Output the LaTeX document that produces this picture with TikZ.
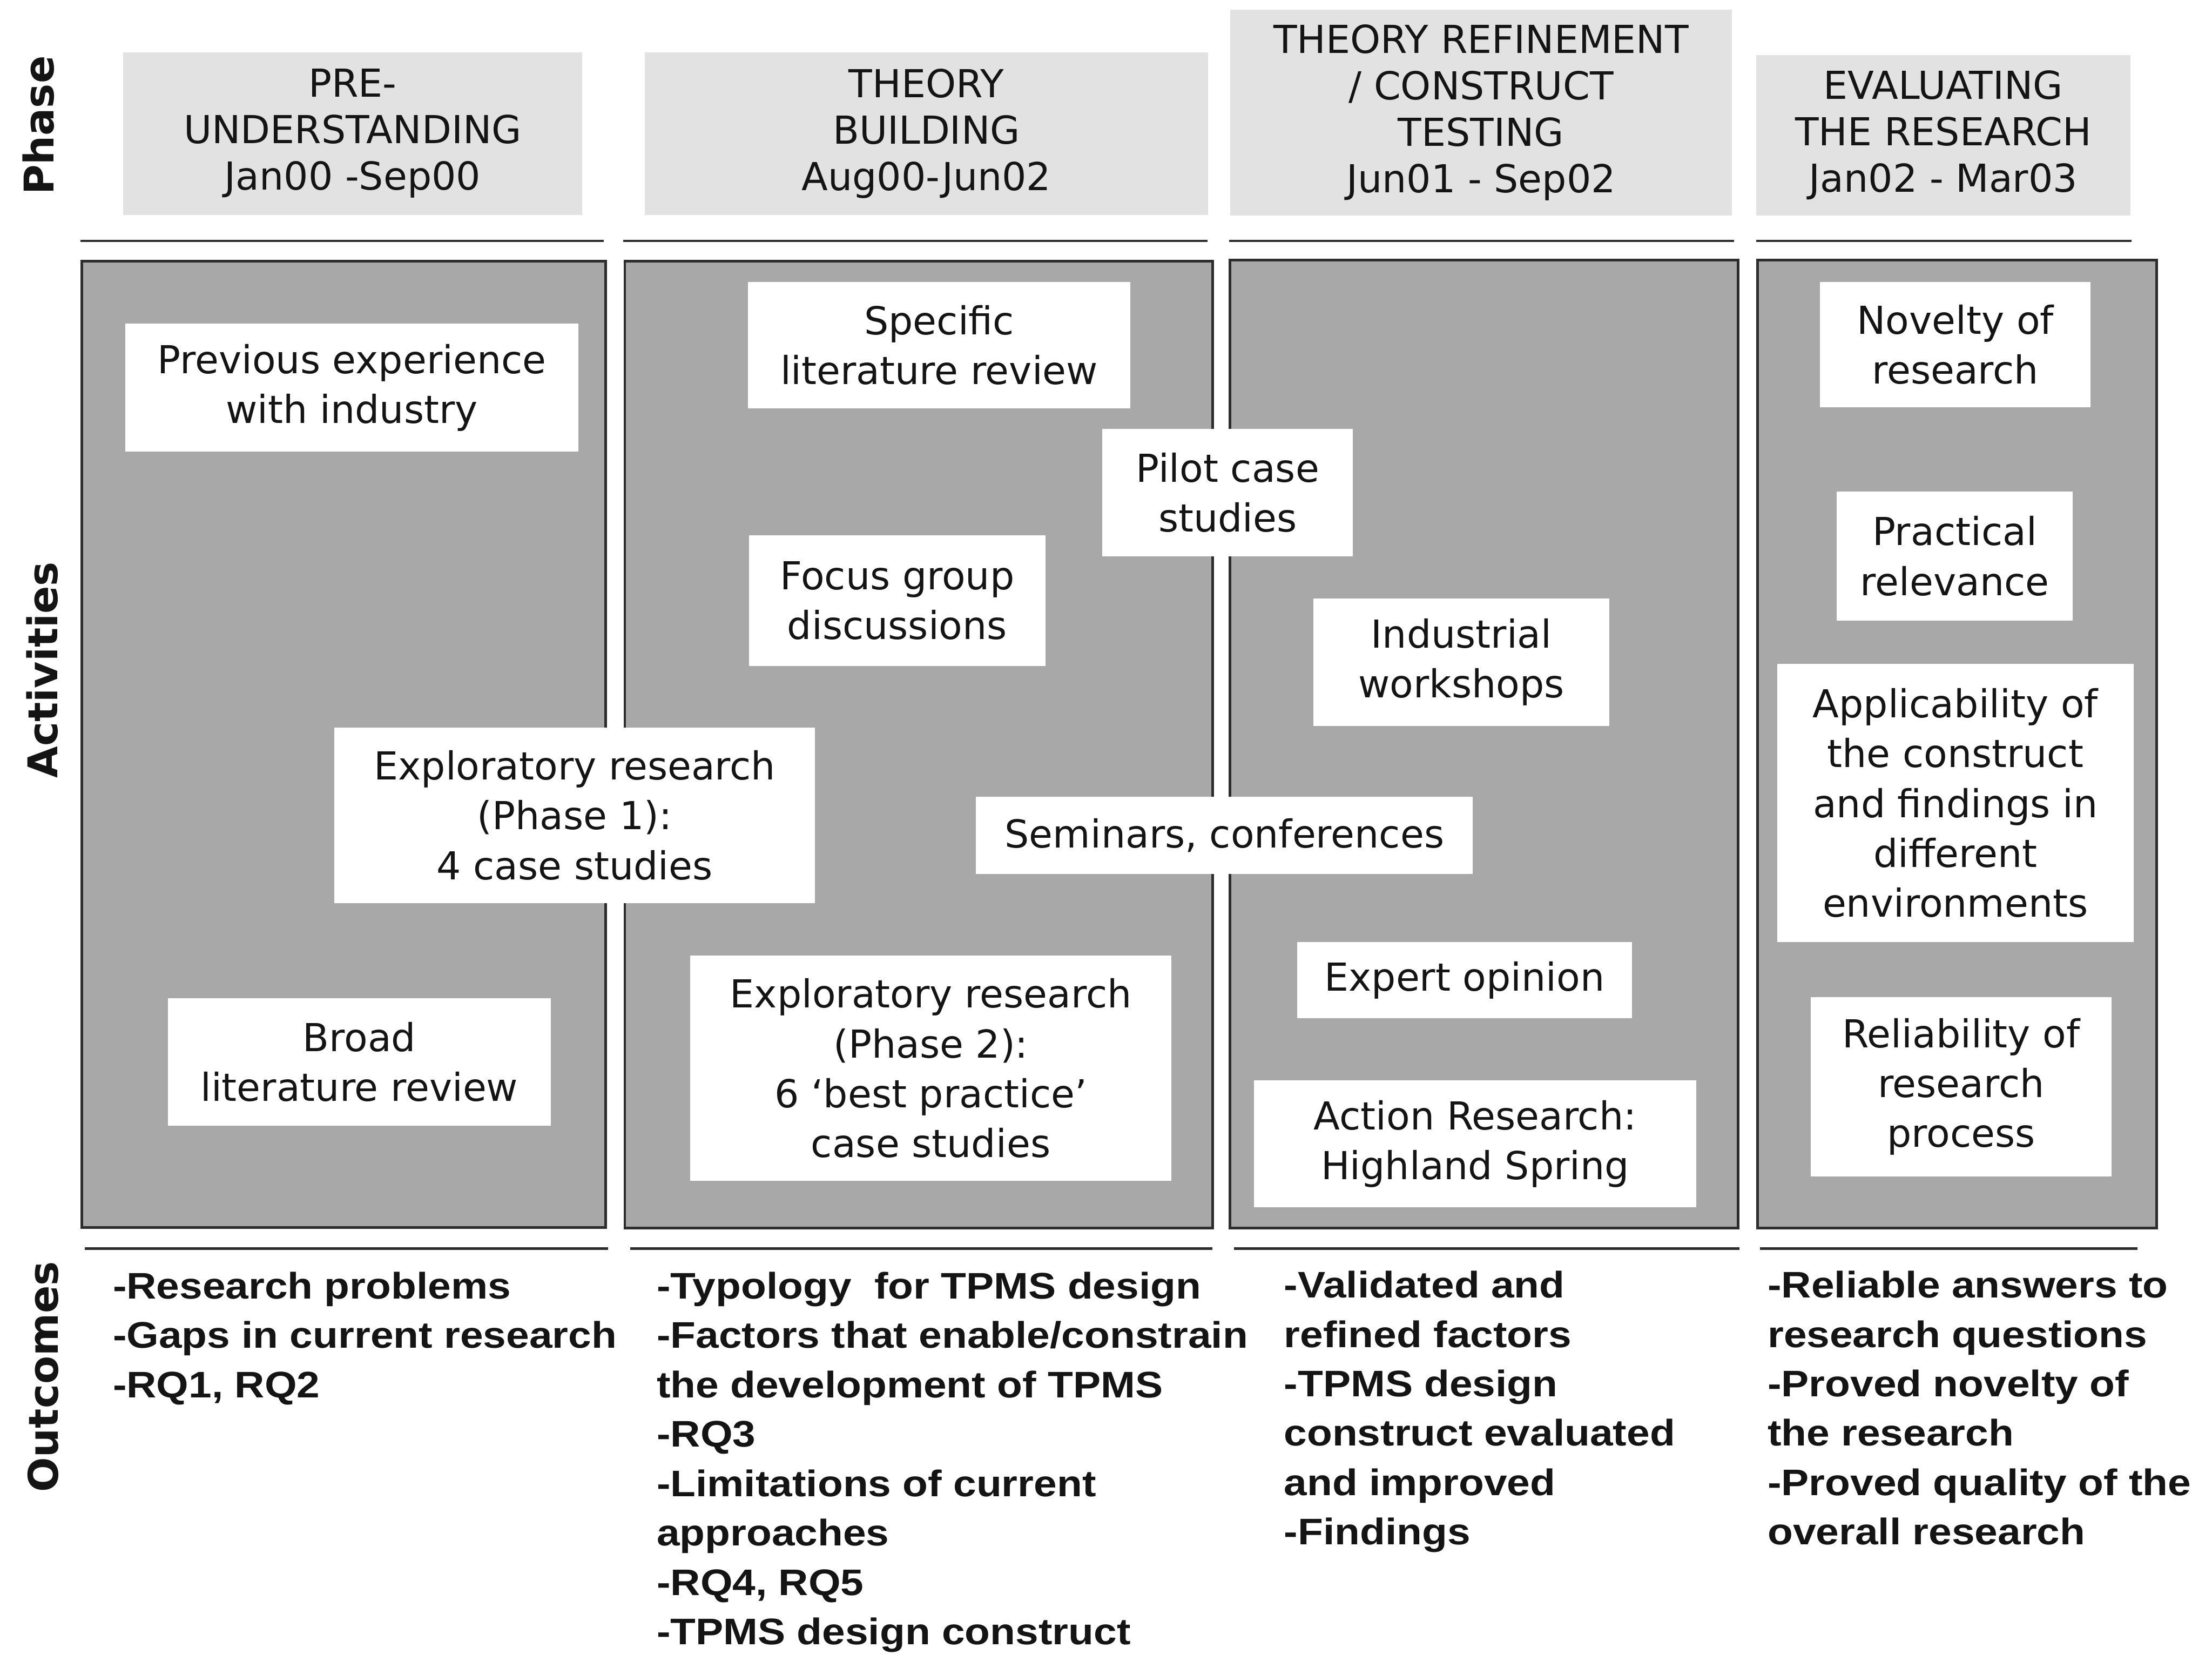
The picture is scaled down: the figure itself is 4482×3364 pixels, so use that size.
\documentclass[tikz,border=0pt]{standalone}
\usepackage{fontspec}
\setmainfont{DejaVu Sans}
\newfontfamily\boxfont{DejaVu Sans}
\newfontfamily\labelfont{DejaVu Sans}
\newfontfamily\outfont{Liberation Sans}[FakeStretch=1.12]

\definecolor{headfill}{RGB}{226,226,226}
\definecolor{panelfill}{RGB}{168,168,168}
\definecolor{rulecol}{RGB}{45,45,45}
\definecolor{inkcol}{RGB}{20,20,20}

\begin{document}
\begin{tikzpicture}[x=0.01cm,y=-0.01cm,
  phasebox/.style={fill=headfill, draw=none, inner sep=0pt, align=center, text=inkcol,
    font=\boxfont\fontsize{22.2pt}{26.7pt}\selectfont},
  panel/.style={fill=panelfill, draw=rulecol, line width=1.5pt},
  activity/.style={fill=white, draw=none, inner sep=0pt, align=center, text=inkcol,
    font=\boxfont\fontsize{22.2pt}{28.7pt}\selectfont},
  rowlabel/.style={rotate=90, inner sep=0pt, text=inkcol,
    font=\labelfont\bfseries\fontsize{23.6pt}{28pt}\selectfont},
  divider/.style={draw=rulecol, line width=1.5pt},
  outcome/.style={anchor=north west, inner sep=0pt, align=left, text=inkcol,
    font=\outfont\bfseries\fontsize{21.3pt}{28.45pt}\selectfont}
]
% page
\fill[white] (0,0) rectangle (4482,3364);
\useasboundingbox (0,0) rectangle (4482,3364);

% row labels
\node[rowlabel] (lphase) at (78,254) {Phase};
\node[rowlabel] (lact) at (86,1357) {Activities};
\node[rowlabel] (lout) at (87,2789) {Outcomes};

% phase headers
\node[phasebox, minimum width=9.29cm, minimum height=3.29cm] (h1) at (714.5,270.5)
  {PRE-\\UNDERSTANDING\\Jan00 -Sep00};
\node[phasebox, minimum width=11.40cm, minimum height=3.29cm] (h2) at (1877,270.5)
  {THEORY\\BUILDING\\Aug00-Jun02};
\node[phasebox, minimum width=10.16cm, minimum height=4.16cm] (h3) at (3001,228)
  {THEORY REFINEMENT\\/ CONSTRUCT\\TESTING\\Jun01 - Sep02};
\node[phasebox, minimum width=7.57cm, minimum height=3.24cm] (h4) at (3937.5,274)
  {EVALUATING\\THE RESEARCH\\Jan02 - Mar03};

% rules under the headers
\coordinate (t1a) at (163,488);  \coordinate (t1b) at (1223,488);
\coordinate (t2a) at (1263,488); \coordinate (t2b) at (2447,488);
\coordinate (t3a) at (2490,488); \coordinate (t3b) at (3513,488);
\coordinate (t4a) at (3558,488); \coordinate (t4b) at (4319,488);
\draw[divider] (t1a) -- (t1b);
\draw[divider] (t2a) -- (t2b);
\draw[divider] (t3a) -- (t3b);
\draw[divider] (t4a) -- (t4b);

% activity panels
\draw[panel] (166,529) rectangle (1227,2487);
\draw[panel] (1266,529) rectangle (2457,2488);
\draw[panel] (2492,527) rectangle (3522,2488);
\draw[panel] (3561,527) rectangle (4370,2488);

% rules above the outcomes
\coordinate (b1a) at (172,2529);  \coordinate (b1b) at (1232,2529);
\coordinate (b2a) at (1277,2529); \coordinate (b2b) at (2457,2529);
\coordinate (b3a) at (2500,2529); \coordinate (b3b) at (3524,2529);
\coordinate (b4a) at (3566,2529); \coordinate (b4b) at (4331,2529);
\draw[divider] (b1a) -- (b1b);
\draw[divider] (b2a) -- (b2b);
\draw[divider] (b3a) -- (b3b);
\draw[divider] (b4a) -- (b4b);

% activities: pre-understanding
\node[activity, minimum width=9.18cm, minimum height=2.59cm] (prev) at (713,785.5)
  {Previous experience\\with industry};
\node[activity, minimum width=7.76cm, minimum height=2.58cm] (broad) at (728,2151)
  {Broad\\literature review};

% activities: theory building
\node[activity, minimum width=7.74cm, minimum height=2.56cm] (spec) at (1903,699)
  {Specific\\literature review};
\node[activity, minimum width=6.00cm, minimum height=2.65cm] (focus) at (1818,1216.5)
  {Focus group\\discussions};
\node[activity, minimum width=9.73cm, minimum height=3.55cm] (expl1) at (1164.5,1651.5)
  {Exploratory research\\(Phase 1):\\4 case studies};
\node[activity, minimum width=9.74cm, minimum height=4.56cm] (expl2) at (1886,2164)
  {Exploratory research\\(Phase 2):\\6 ‘best practice’\\case studies};
\node[activity, minimum width=5.07cm, minimum height=2.58cm] (pilot) at (2487.5,998)
  {Pilot case\\studies};
\node[activity, minimum width=10.06cm, minimum height=1.56cm] (semi) at (2481,1692)
  {Seminars, conferences};

% activities: refinement and testing
\node[activity, minimum width=6.00cm, minimum height=2.59cm] (indus) at (2961,1341.5)
  {Industrial\\workshops};
\node[activity, minimum width=6.79cm, minimum height=1.55cm] (expert) at (2967.5,1985.5)
  {Expert opinion};
\node[activity, minimum width=8.96cm, minimum height=2.56cm] (action) at (2989,2317)
  {Action Research:\\Highland Spring};

% activities: evaluation
\node[activity, minimum width=5.48cm, minimum height=2.54cm] (novel) at (3962,698)
  {Novelty of\\research};
\node[activity, minimum width=4.77cm, minimum height=2.61cm] (pract) at (3960.5,1126.5)
  {Practical\\relevance};
\node[activity, minimum width=7.22cm, minimum height=5.63cm] (appl) at (3962,1626.5)
  {Applicability of\\the construct\\and findings in\\different\\environments};
\node[activity, minimum width=6.09cm, minimum height=3.63cm] (relia) at (3973.5,2201.5)
  {Reliability of\\research\\process};

% outcomes
\node[outcome] (o1) at (228,2576)
  {-Research problems\\-Gaps in current research\\-RQ1, RQ2};
\node[outcome] (o2) at (1330,2576)
  {-Typology\ \ for TPMS design\\-Factors that enable/constrain\\the development of TPMS\\-RQ3\\-Limitations of current\\approaches\\-RQ4, RQ5\\-TPMS design construct};
\node[outcome] (o3) at (2601,2574)
  {-Validated and\\refined factors\\-TPMS design\\construct evaluated\\and improved\\-Findings};
\node[outcome] (o4) at (3581,2574)
  {-Reliable answers to\\research questions\\-Proved novelty of\\the research\\-Proved quality of the\\overall research};
\end{tikzpicture}
\end{document}
